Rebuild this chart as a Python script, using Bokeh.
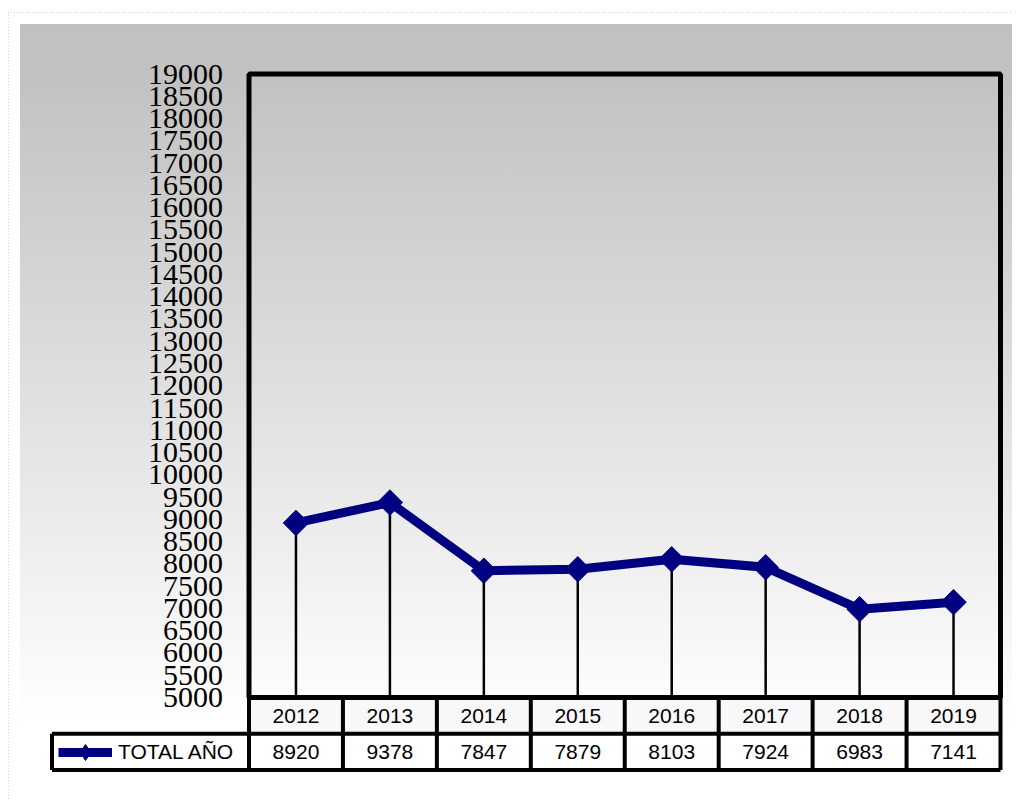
from bokeh.plotting import figure
from bokeh.models import (Range1d, FixedTicker, PrintfTickFormatter, Legend,
                          LegendItem, ColumnDataSource)
from bokeh.embed import file_html
from bokeh.resources import INLINE
from bokeh.core.properties import value

# ---------------- data ----------------
years = ["2012", "2013", "2014", "2015", "2016", "2017", "2018", "2019"]
totals = [8920, 9378, 7847, 7879, 8103, 7924, 6983, 7141]
series_name = "TOTAL AÑO"
y_ticks = list(range(5000, 19001, 500))

# ---------------- layout constants (page pixels, figure at page origin) ----------------
Y_MIN, Y_MAX = 5000, 19000
n = len(years)
idx = list(range(n))
X_LO, X_HI = -0.5, n - 0.5

FIG_W, FIG_H = 1012, 800
PLOT_L, PLOT_R = 248.5, 1000.0      # plot box edges
PLOT_T, PLOT_B = 73.5, 697.0
TAB_B = 769.5                        # table bottom edge
LEG_L = 51.5                         # left edge of the legend cell
FR_L, FR_R, FR_T, FR_B = 46.0, 1004.0, 48.0, 776.0   # frame
LEG_H = 40                           # legend item height
LEG_CY = 751.5                       # legend item vertical centre

ux = (PLOT_R - PLOT_L) / n
x_start = X_LO - (PLOT_L - FR_L) / ux
x_end = X_HI + (FR_R - PLOT_R) / ux
X_LEG = X_LO - (PLOT_L - LEG_L) / ux
uy = (PLOT_B - PLOT_T) / (Y_MAX - Y_MIN)
y_end = Y_MAX + (PLOT_T - FR_T) / uy
y_start = Y_MIN - (FR_B - PLOT_B) / uy
ut = (TAB_B - PLOT_B) / 2.0
t_end = -(PLOT_B - FR_T) / ut
t_start = 2.0 + (FR_B - TAB_B) / ut

p = figure(width=FIG_W, height=FIG_H, output_backend="svg", toolbar_location=None,
           x_range=Range1d(x_start, x_end), y_range=Range1d(y_start, y_end),
           min_border_left=int(FR_L), min_border_right=int(FIG_W - FR_R),
           min_border_top=int(FR_T), min_border_bottom=int(FIG_H - FR_B),
           x_axis_location=None)
p.extra_y_ranges = {"tab": Range1d(t_start, t_end)}

p.background_fill_alpha = 0
p.border_fill_alpha = 0
p.outline_line_color = None
p.grid.visible = False
p.styles = {
    "background": (
        "repeating-linear-gradient(180deg, #cfcfcf 0px, #cfcfcf 1px, transparent 1px, transparent 3px) "
        "8px 12px / 1px 788px no-repeat, "
        "repeating-linear-gradient(90deg, #cfcfcf 0px, #cfcfcf 1px, transparent 1px, transparent 3px) "
        "8px 12px / 1004px 1px no-repeat, "
        "linear-gradient(180deg, #c0c0c0 0%, #c2c2c2 8%, #fdfdfd 96%, #ffffff 100%) "
        "20px 24px / 992px 709px no-repeat"
    )
}

# y axis, pinned to the left edge of the plot box
ax = p.yaxis[0]
ax.fixed_location = X_LO
ax.ticker = FixedTicker(ticks=y_ticks)
ax.formatter = PrintfTickFormatter(format="%d")
ax.axis_line_color = None
ax.major_tick_line_color = None
ax.minor_tick_line_color = None
ax.major_tick_out = 0
ax.major_tick_in = 0
ax.major_label_standoff = 26
ax.major_label_text_font = "Liberation Serif"
ax.major_label_text_font_size = "30px"
ax.major_label_text_color = "black"

# table cells
row1 = ColumnDataSource(dict(l=[i - 0.5 for i in idx], r=[i + 0.5 for i in idx],
                             b=[0] * n, t=[1] * n, x=idx, y=[0.5] * n, txt=years))
row2 = ColumnDataSource(dict(l=[i - 0.5 for i in idx], r=[i + 0.5 for i in idx],
                             b=[1] * n, t=[2] * n, x=idx, y=[1.5] * n,
                             txt=[str(v) for v in totals]))
p.quad(left="l", right="r", bottom="b", top="t", source=row1, y_range_name="tab",
       fill_color="#f8f8f8", line_color=None)
p.quad(left="l", right="r", bottom="b", top="t", source=row2, y_range_name="tab",
       fill_color="white", line_color=None)
p.quad(left=[X_LEG], right=[X_LO], bottom=[1], top=[2], y_range_name="tab",
       fill_color="white", line_color=None)
for src in (row1, row2):
    p.text(x="x", y="y", text="txt", source=src, y_range_name="tab",
           text_align="center", text_baseline="middle",
           text_font=value("Liberation Sans"), text_font_size="21px", text_color="black")

# table grid lines
p.segment(x0=[X_LEG, X_LEG], x1=[X_HI, X_HI], y0=[1, 2], y1=[1, 2], y_range_name="tab",
          line_color="black", line_width=4)
vx = [X_LEG] + [i - 0.5 for i in range(n + 1)]
p.segment(x0=vx, x1=vx, y0=[1] + [0] * (n + 1), y1=[2] * (n + 2), y_range_name="tab",
          line_color="black", line_width=4)

# drop lines
p.segment(x0=idx, x1=idx, y0=[Y_MIN] * n, y1=totals, line_color="black", line_width=2.5)

# plot box
p.quad(left=[X_LO], right=[X_HI], bottom=[Y_MIN], top=[Y_MAX], fill_alpha=0,
       line_color="black", line_width=5)

# series
ln = p.line(idx, totals, line_color="#000080", line_width=9)
# diamond symbol used by the legend (hidden beneath the rotated-square markers)
leg_mk = p.scatter(idx, totals, marker="diamond", size=12,
                   fill_color="#000080", line_color="#000080")
mk = p.scatter(idx, totals, marker="square", angle=0.785398, size=18,
               fill_color="#000080", line_color="#000080")

legend = Legend(items=[LegendItem(label=series_name, renderers=[ln, leg_mk])],
                location=(58 - FR_L, FR_B - (LEG_CY + LEG_H / 2)), orientation="vertical",
                padding=0, margin=0, spacing=0,
                glyph_width=54, glyph_height=LEG_H, label_standoff=6,
                label_width=120, label_height=LEG_H,
                label_text_font="Liberation Sans", label_text_font_size="21px",
                label_text_color="black",
                border_line_color=None, background_fill_alpha=0)
p.add_layout(legend, "center")

open("out.html", "w").write(file_html(p, INLINE))
